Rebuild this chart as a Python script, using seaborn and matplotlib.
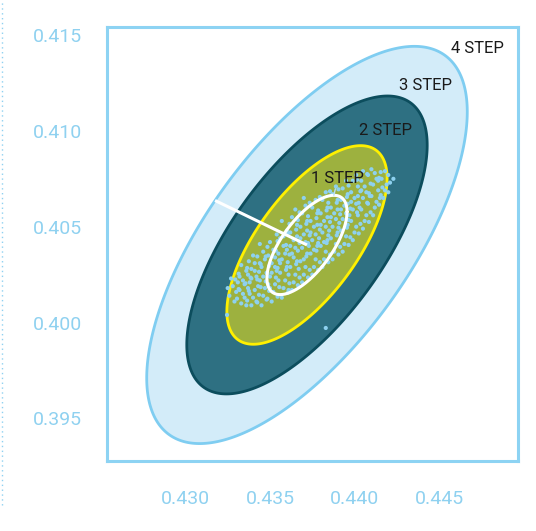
import numpy as np
import matplotlib
matplotlib.use("Agg")
import matplotlib.pyplot as plt
import seaborn as sns
from matplotlib import font_manager as fm
from matplotlib.lines import Line2D

# distribution stats
center_x = 0.43719
center_y = 0.40405
sd_x = 0.00237
sd_y = 0.00259
corr = 0.67

steps = [4, 3, 2, 1]
step_labels = ["4 STEP", "3 STEP", "2 STEP", "1 STEP"]

# sample points
pt_x = [0.4326, 0.4328, 0.4329, 0.4327, 0.4330, 0.4331, 0.4325, 0.43246,
        0.4333, 0.4334, 0.4335, 0.4332, 0.4336, 0.4333, 0.4335, 0.4337, 0.4334, 0.4336, 0.4332, 0.4337,
        0.4339, 0.4340, 0.4341, 0.4338, 0.4342, 0.4339, 0.4341, 0.4340, 0.4343, 0.4338, 0.4342, 0.4341, 0.4339,
        0.4345, 0.4346, 0.4347, 0.4344, 0.4348, 0.4345, 0.4347, 0.4346, 0.4344, 0.4349, 0.4348, 0.4344, 0.4346, 0.4349,
        0.4351, 0.4352, 0.4353, 0.4350, 0.4354, 0.4351, 0.4353, 0.4352, 0.4350, 0.4354, 0.4355, 0.4350, 0.4353, 0.4355, 0.4351,
        0.4357, 0.4358, 0.4359, 0.4356, 0.4360, 0.4357, 0.4359, 0.4358, 0.4356, 0.4360, 0.4357, 0.4361, 0.4356, 0.4360, 0.4358, 0.4361,
        0.4363, 0.4364, 0.4365, 0.4362, 0.4366, 0.4363, 0.4365, 0.4364, 0.4362, 0.4366, 0.4363, 0.4365, 0.4367, 0.4362, 0.4366, 0.4364,
        0.4369, 0.4370, 0.4371, 0.4368, 0.4372, 0.4369, 0.4371, 0.4370, 0.4368, 0.4372, 0.4369, 0.4371, 0.4370, 0.4373, 0.4368, 0.4372, 0.4370,
        0.4375, 0.4376, 0.4377, 0.4374, 0.4378, 0.4375, 0.4377, 0.4376, 0.4374, 0.4378, 0.4375, 0.4377, 0.4379, 0.4374, 0.4378, 0.4376,
        0.4381, 0.4382, 0.4383, 0.4380, 0.4384, 0.4381, 0.4383, 0.4382, 0.4380, 0.4384, 0.4381, 0.4383, 0.4385, 0.4380, 0.4384, 0.4382,
        0.4387, 0.4388, 0.4389, 0.4386, 0.4390, 0.4387, 0.4389, 0.4388, 0.4386, 0.4390, 0.4387, 0.4389, 0.4391, 0.4386, 0.4390,
        0.4393, 0.4394, 0.4395, 0.4392, 0.4396, 0.4393, 0.4395, 0.4394, 0.4392, 0.4396, 0.4393, 0.4395, 0.4397, 0.4392, 0.4396,
        0.4399, 0.4400, 0.4401, 0.4398, 0.4402, 0.4399, 0.4401, 0.4400, 0.4398, 0.4402, 0.4399, 0.4401, 0.4403, 0.4398, 0.4402,
        0.4405, 0.4406, 0.4407, 0.4404, 0.4408, 0.4405, 0.4407, 0.4406, 0.4404, 0.4408, 0.4405, 0.4409, 0.4404,
        0.4411, 0.4412, 0.4413, 0.4410, 0.4414, 0.4411, 0.4413, 0.4412, 0.4410, 0.4414, 0.4415,
        0.4417, 0.4418, 0.4419, 0.4416, 0.4420, 0.4418, 0.4421, 0.4420, 0.4423, 0.4383,
        0.43305, 0.43315, 0.43295, 0.43315,
        0.43365, 0.43375, 0.43355, 0.43385, 0.43365, 0.43375,
        0.43425, 0.43435, 0.43445, 0.43425, 0.43435, 0.43445, 0.43425,
        0.43485, 0.43495, 0.43475, 0.43485, 0.43495, 0.43475, 0.43485,
        0.43545, 0.43555, 0.43535, 0.43545, 0.43555, 0.43535, 0.43545,
        0.43605, 0.43615, 0.43595, 0.43605, 0.43615, 0.43595, 0.43605, 0.43615,
        0.43665, 0.43675, 0.43655, 0.43665, 0.43675, 0.43655, 0.43665, 0.43675,
        0.43725, 0.43735, 0.43715, 0.43725, 0.43735, 0.43715, 0.43725, 0.43735,
        0.43785, 0.43795, 0.43775, 0.43785, 0.43795, 0.43775, 0.43785, 0.43795,
        0.43845, 0.43855, 0.43835, 0.43845, 0.43855, 0.43835, 0.43845, 0.43855,
        0.43905, 0.43915, 0.43895, 0.43905, 0.43915, 0.43895, 0.43905,
        0.43965, 0.43975, 0.43955, 0.43965, 0.43975, 0.43955, 0.43965,
        0.44025, 0.44035, 0.44015, 0.44025, 0.44035, 0.44015,
        0.44085, 0.44095, 0.44075, 0.44085, 0.44095, 0.44075,
        0.44145, 0.44155, 0.44165, 0.44145, 0.44155]
pt_y = [0.4014, 0.4019, 0.4011, 0.4023, 0.4016, 0.4021, 0.4018, 0.40040,
        0.4010, 0.4015, 0.4020, 0.4024, 0.4027, 0.4030, 0.4013, 0.4018, 0.4022, 0.4009, 0.4017, 0.4025,
        0.4009, 0.4013, 0.4017, 0.4021, 0.4024, 0.4028, 0.4031, 0.4035, 0.4019, 0.4015, 0.4011, 0.4027, 0.4023,
        0.4009, 0.4014, 0.4018, 0.4022, 0.4026, 0.4029, 0.4033, 0.4037, 0.4041, 0.4020, 0.4012, 0.4031, 0.4024, 0.4035,
        0.4011, 0.4016, 0.4020, 0.4024, 0.4027, 0.4031, 0.4034, 0.4038, 0.4042, 0.4046, 0.4022, 0.4018, 0.4029, 0.4036, 0.4026,
        0.4013, 0.4018, 0.4022, 0.4026, 0.4029, 0.4033, 0.4036, 0.4040, 0.4044, 0.4048, 0.4053, 0.4025, 0.4031, 0.4038, 0.4045, 0.4017,
        0.4017, 0.4021, 0.4025, 0.4029, 0.4032, 0.4036, 0.4039, 0.4043, 0.4047, 0.4051, 0.4055, 0.4059, 0.4028, 0.4040, 0.4045, 0.4034,
        0.4021, 0.4025, 0.4029, 0.4032, 0.4036, 0.4039, 0.4042, 0.4046, 0.4050, 0.4053, 0.4057, 0.4061, 0.4065, 0.4040, 0.4044, 0.4048, 0.4033,
        0.4025, 0.4029, 0.4033, 0.4036, 0.4040, 0.4043, 0.4046, 0.4050, 0.4053, 0.4057, 0.4060, 0.4064, 0.4044, 0.4047, 0.4051, 0.4038,
        0.4029, 0.4033, 0.4037, 0.4040, 0.4043, 0.4047, 0.4050, 0.4053, 0.4057, 0.4060, 0.4064, 0.4068, 0.4048, 0.4051, 0.4055, 0.4042,
        0.4033, 0.4037, 0.4041, 0.4044, 0.4047, 0.4050, 0.4054, 0.4057, 0.4060, 0.4064, 0.4067, 0.4071, 0.4052, 0.4055, 0.4059,
        0.4037, 0.4041, 0.4045, 0.4048, 0.4051, 0.4054, 0.4057, 0.4061, 0.4064, 0.4067, 0.4070, 0.4074, 0.4056, 0.4059, 0.4062,
        0.4043, 0.4047, 0.4050, 0.4053, 0.4056, 0.4059, 0.4062, 0.4065, 0.4068, 0.4071, 0.4074, 0.4077, 0.4060, 0.4063, 0.4066,
        0.4049, 0.4053, 0.4056, 0.4059, 0.4062, 0.4065, 0.4068, 0.4071, 0.4074, 0.4077, 0.4079, 0.4066, 0.4069,
        0.4056, 0.4060, 0.4063, 0.4066, 0.4069, 0.4072, 0.4075, 0.4078, 0.4080, 0.4074, 0.4065,
        0.4065, 0.4069, 0.4072, 0.4075, 0.4077, 0.4079, 0.4073, 0.4068, 0.4075, 0.39972,
        0.40125, 0.40175, 0.40225, 0.40255,
        0.40115, 0.40165, 0.40205, 0.40235, 0.40285, 0.40320,
        0.40105, 0.40145, 0.40185, 0.40225, 0.40265, 0.40305, 0.40345,
        0.40125, 0.40165, 0.40215, 0.40255, 0.40295, 0.40345, 0.40395,
        0.40135, 0.40185, 0.40235, 0.40285, 0.40325, 0.40375, 0.40425,
        0.40155, 0.40205, 0.40275, 0.40315, 0.40355, 0.40405, 0.40465, 0.40515,
        0.40195, 0.40235, 0.40305, 0.40375, 0.40415, 0.40485, 0.40535, 0.40575,
        0.40235, 0.40275, 0.40345, 0.40415, 0.40455, 0.40515, 0.40555, 0.40625,
        0.40275, 0.40315, 0.40375, 0.40415, 0.40485, 0.40545, 0.40585, 0.40655,
        0.40315, 0.40355, 0.40415, 0.40455, 0.40525, 0.40585, 0.40625, 0.40685,
        0.40355, 0.40395, 0.40455, 0.40495, 0.40565, 0.40625, 0.40695,
        0.40405, 0.40445, 0.40495, 0.40535, 0.40595, 0.40655, 0.40715,
        0.40465, 0.40515, 0.40575, 0.40625, 0.40685, 0.40745,
        0.40525, 0.40575, 0.40625, 0.40675, 0.40725, 0.40775,
        0.40615, 0.40665, 0.40705, 0.40755, 0.40785]

xticks = [0.430, 0.435, 0.440, 0.445]
yticks = [0.395, 0.400, 0.405, 0.410, 0.415]

# layout / style
step_fill = ["#d3ecf9", "#2e7082", "#9db13f", None]
step_edge = ["#7fcdf1", "#0c4d5d", "#fff000", "white"]
label_x = [0.44725, 0.44417, 0.44186, 0.43902]
label_y = [0.41432, 0.41239, 0.41004, 0.40754]
radius_angle = 125  # where the white radius meets the outer ellipse
light_blue = "#8fd1f0"

sns.set_style("white")
available = {f.name for f in fm.fontManager.ttflist}
if "Liberation Sans Narrow" in available:
    tick_font, tick_size = "Liberation Sans Narrow", 16.5
else:
    tick_font, tick_size = "Roboto", 14

cov = np.array([[sd_x ** 2, corr * sd_x * sd_y],
                [corr * sd_x * sd_y, sd_y ** 2]])
L = np.linalg.cholesky(cov)


def ellipse_xy(k, t):
    xy = k * (L @ np.vstack([np.cos(t), np.sin(t)]))
    return center_x + xy[0], center_y + xy[1]


fig = plt.figure(figsize=(5.36, 5.31), dpi=100)
ax = fig.add_axes([0.1996, 0.1318, 0.7668, 0.8174])

t = np.linspace(0, 2 * np.pi, 400)
for i, (k, fc, ec) in enumerate(zip(steps, step_fill, step_edge)):
    ex, ey = ellipse_xy(k, t)
    if fc is not None:
        ax.fill(ex, ey, facecolor=fc, edgecolor=ec, lw=2.0, zorder=1 + i)
    else:
        ax.plot(ex, ey, color=ec, lw=2.2, zorder=6)

sns.scatterplot(x=pt_x, y=pt_y, s=9, color="#8ed1ef", edgecolor="none",
                linewidth=0, ax=ax, zorder=5)

# white radius from the centre to the 4 step ellipse
rx, ry = ellipse_xy(steps[0], np.array([np.deg2rad(radius_angle)]))
ax.plot([center_x, rx[0]], [center_y, ry[0]], color="white", lw=2.2, zorder=6,
        solid_capstyle="butt")

for k, lab, lx, ly in zip(steps, step_labels, label_x, label_y):
    if k == 1:
        top_x = center_x + corr * sd_x
        top_y = center_y + sd_y
        ax.annotate(lab, xy=(top_x, top_y), xytext=(lx, ly), ha="center", va="center",
                    fontsize=12, color="#1a1a1a", family="Roboto", zorder=7,
                    arrowprops=dict(arrowstyle="-", color="#b9e1f3", lw=1,
                                    shrinkA=0, shrinkB=0))
    else:
        ax.text(lx, ly, lab, ha="center", va="center", fontsize=12,
                color="#1a1a1a", family="Roboto", zorder=7)

ax.set_xlim(0.42536, 0.44967)
ax.set_ylim(0.39278, 0.41542)
ax.set_xticks(xticks)
ax.set_xticklabels([f"{v:.3f}" for v in xticks])
ax.set_yticks(yticks)
ax.set_yticklabels([f"{v:.3f}" for v in yticks])
ax.tick_params(axis="both", length=0, labelcolor=light_blue, labelsize=tick_size)
ax.tick_params(axis="y", pad=18)
ax.tick_params(axis="x", pad=21)
for lab in ax.get_xticklabels() + ax.get_yticklabels():
    lab.set_family(tick_font)
for sp in ax.spines.values():
    sp.set_color("#8dd3f3")
    sp.set_linewidth(2.2)
ax.set_xlabel("")
ax.set_ylabel("")

# dotted page edge on the left
fig.add_artist(Line2D([0.003, 0.003], [0.049, 1.0], transform=fig.transFigure,
                      color=light_blue, lw=1, linestyle=(0, (1, 2.5))))

fig.savefig("out.png", dpi=100)
